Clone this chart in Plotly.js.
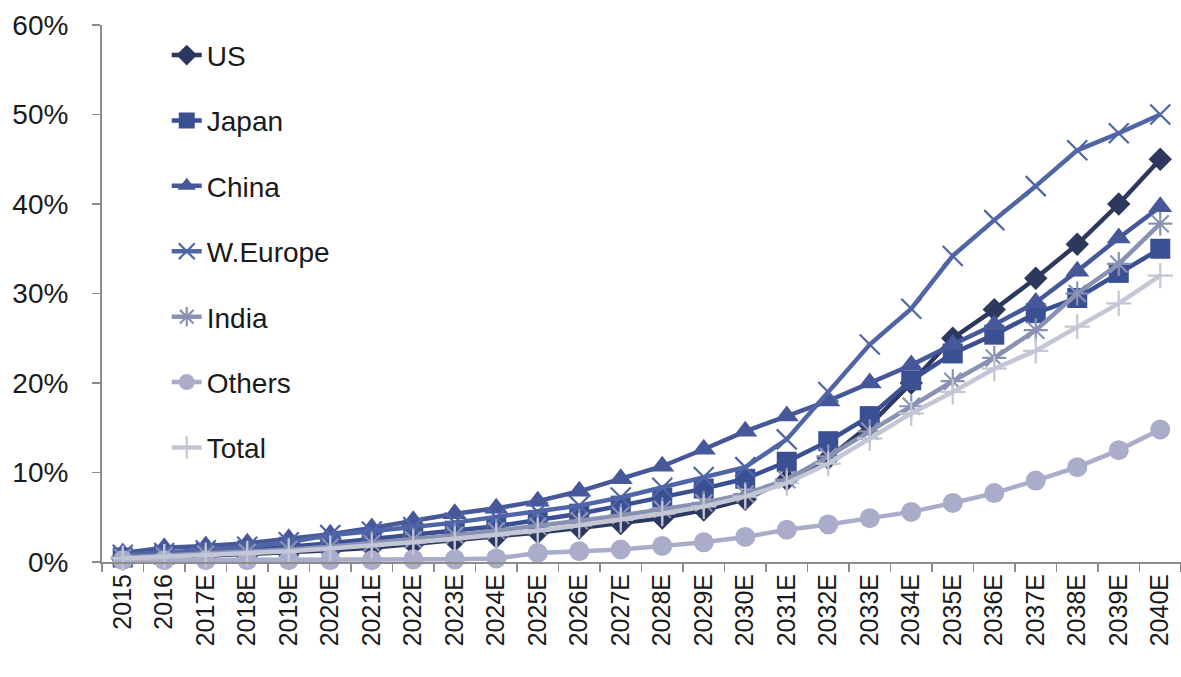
<!DOCTYPE html>
<html>
<head>
<meta charset="utf-8">
<script src="https://cdn.plot.ly/plotly-3.0.1.min.js"></script>
<style>html,body{margin:0;padding:0;background:#fff;}#chart{width:1181px;height:677px;}</style>
</head>
<body>
<div id="chart"></div>
<script>
const years = ["2015","2016","2017E","2018E","2019E","2020E","2021E","2022E","2023E","2024E","2025E","2026E","2027E","2028E","2029E","2030E","2031E","2032E","2033E","2034E","2035E","2036E","2037E","2038E","2039E","2040E"];

const us      = [0.3,0.5,0.6,0.8,1.0,1.3,1.6,2.0,2.4,2.8,3.3,3.8,4.3,4.9,5.8,7.0,9.2,11.6,15.3,20.0,25.0,28.2,31.7,35.5,40.0,45.0];
const japan   = [0.5,0.8,1.0,1.3,1.7,2.1,2.6,3.0,3.5,4.0,4.7,5.4,6.3,7.2,8.2,9.3,11.2,13.5,16.3,20.3,23.3,25.4,27.8,29.5,32.3,35.0];
const china   = [1.0,1.6,1.8,2.1,2.6,3.1,3.8,4.6,5.4,6.0,6.8,7.9,9.3,10.7,12.6,14.6,16.3,18.0,20.0,22.0,24.3,26.5,29.0,32.5,36.2,39.7];
const weurope = [0.8,1.0,1.3,1.7,2.2,3.0,3.4,3.9,4.4,5.0,5.6,6.3,7.2,8.3,9.5,10.6,13.7,19.0,24.3,28.3,34.2,38.2,42.0,46.0,47.9,50.0];
const india   = [0.5,0.7,0.9,1.1,1.4,1.7,2.1,2.5,3.0,3.5,4.0,4.6,5.2,5.9,6.6,7.6,9.2,11.8,14.6,17.4,20.2,22.8,25.9,30.0,33.3,37.8];
const others  = [0.2,0.2,0.2,0.2,0.2,0.2,0.2,0.3,0.3,0.4,1.0,1.2,1.4,1.8,2.2,2.8,3.6,4.2,4.9,5.6,6.6,7.7,9.1,10.6,12.5,14.8];
const total   = [0.4,0.6,0.7,0.9,1.2,1.5,1.8,2.2,2.6,3.0,3.5,4.1,4.7,5.4,6.2,7.3,8.8,11.0,13.8,16.6,19.0,21.6,23.6,26.3,28.9,32.0];

const seriesNames = ["US","Japan","China","W.Europe","India","Others","Total"];
const seriesData = [us, japan, china, weurope, india, others, total];
const colors = ["#2d385f","#3b4f93","#46589a","#5065a6","#8a92b4","#a9adc9","#c3c6d4"];
const symbols = ["diamond","square","triangle-up","x-thin-open","asterisk-open","circle","cross-thin-open"];
const sizes = [18,20,21,20,20,20,18];

const traces = seriesNames.map((n,i)=>{
  const isLineSym = symbols[i].indexOf("open")>=0;
  return {
    type:"scatter", mode:"lines+markers", name:n, x:years, y:seriesData[i],
    legendgroup:"g"+i,
    line:{color:colors[i], width:4.5},
    marker:{symbol:symbols[i], size:sizes[i], color:colors[i],
            line:{color:colors[i], width:isLineSym?2.2:0}},
    cliponaxis:false
  };
});

const layout = {
  width:1181, height:677,
  margin:{l:102, r:0, t:25, b:115},
  paper_bgcolor:"#fff", plot_bgcolor:"#fff",
  font:{family:"Liberation Sans, Arial, sans-serif", color:"#222"},
  showlegend:true,
  legend:{x:0.06, y:0.99, xanchor:"left", yanchor:"top", bgcolor:"rgba(0,0,0,0)",
          font:{size:28, color:"#1a1a1a"}, tracegroupgap:26, itemsizing:"trace"},
  xaxis:{type:"category", range:[-0.5,25.5], showline:true, linecolor:"#8c8c8c", linewidth:2,
         ticks:"outside", tickson:"boundaries", ticklen:8, tickcolor:"#8c8c8c", tickwidth:1.5,
         tickangle:-90, tickfont:{size:25, color:"#1a1a1a"}, showgrid:false, zeroline:false},
  yaxis:{range:[0,60], dtick:10, tick0:0, ticksuffix:"%", showline:true, linecolor:"#8c8c8c", linewidth:2,
         ticks:"outside", ticklen:8, tickcolor:"#8c8c8c", tickwidth:1.5, ticklabelstandoff:18,
         tickfont:{size:28, color:"#1a1a1a"}, showgrid:false, zeroline:false}
};

Plotly.newPlot("chart", traces, layout, {displayModeBar:false, staticPlot:true});
</script>
</body>
</html>
